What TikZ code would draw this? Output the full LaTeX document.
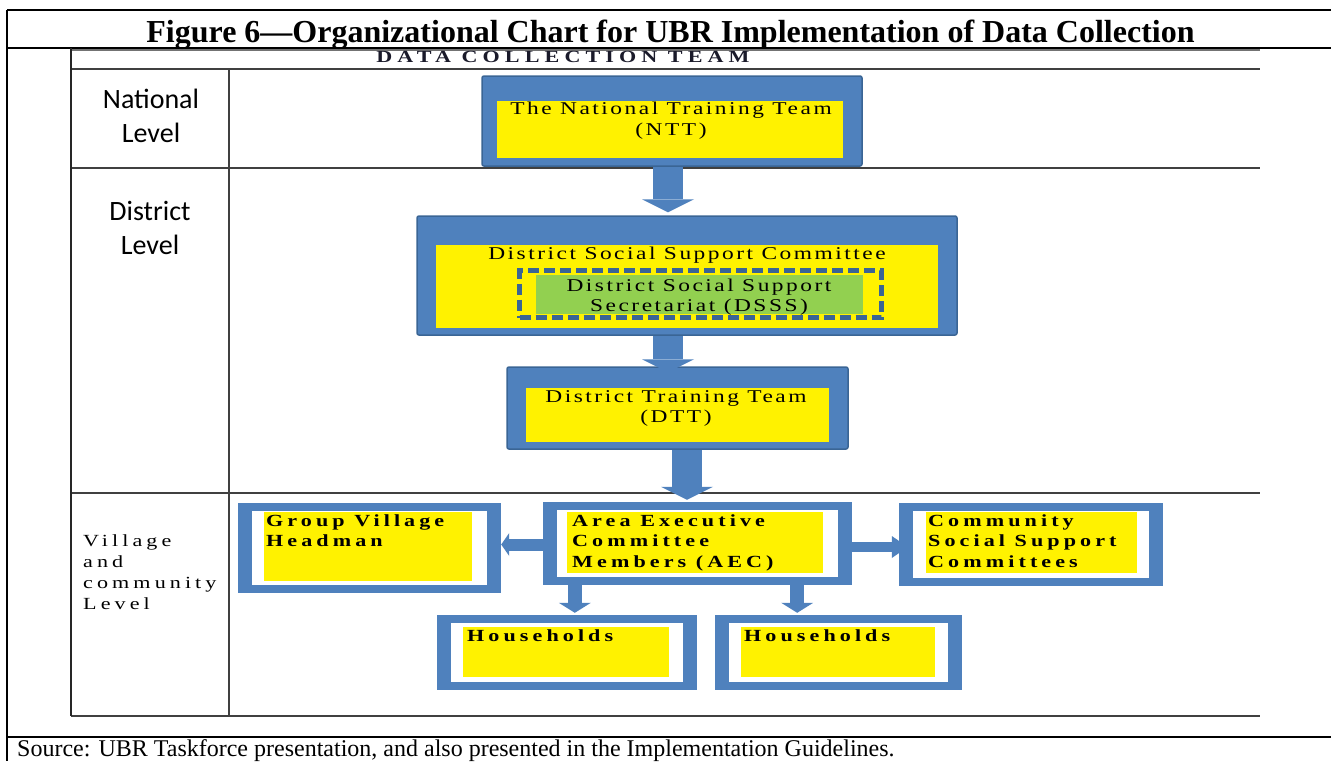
\documentclass[tikz,border=0pt]{standalone}
\usepackage{fontspec}
\setmainfont{Liberation Serif}
\newfontfamily\levelfont{Carlito}
\newfontfamily\boxfont[FakeStretch=1.3, LetterSpace=14]{Liberation Serif}
\newfontfamily\widefont[FakeStretch=1.3, LetterSpace=24]{Liberation Serif}
\newfontfamily\teamfont[FakeStretch=1.3, LetterSpace=30]{Liberation Serif}
\usetikzlibrary{arrows.meta, calc, positioning}
\definecolor{ubrblue}{HTML}{4F81BD}
\definecolor{ubrdark}{HTML}{3A6595}
\definecolor{dsssgreen}{HTML}{92D050}
\definecolor{teamnavy}{HTML}{1A1A2A}
\tikzset{
	topbox/.style={
		rectangle,
		rounded corners=2pt,
		fill=ubrblue,
		draw=ubrdark,
		line width=1.5pt,
		inner sep=0pt
	},
	frame/.style={
		rectangle,
		fill=ubrblue,
		inner sep=0pt
	},
	hl/.style={
		rectangle,
		fill=yellow,
		inner sep=0pt
	},
	toptext/.style={
		inner sep=0pt,
		anchor=north,
		align=center,
		font=\boxfont\fontsize{18}{21}\selectfont
	},
	lowtext/.style={
		inner sep=0pt,
		anchor=north west,
		align=left,
		font=\widefont\bfseries\fontsize{17}{20.5}\selectfont
	},
	levellabel/.style={
		inner sep=0pt,
		anchor=north,
		align=center,
		font=\levelfont\fontsize{28}{34}\selectfont
	},
	rowline/.style={draw=black!75, line width=1.3pt},
	bigarrow/.style={draw=ubrblue, line width=30pt, -{Triangle[width=52pt, length=13pt, line width=0pt]}},
	sidearrow/.style={draw=ubrblue, line width=12pt, -{Triangle[width=23pt, length=8pt, line width=0pt]}},
	downarrow/.style={draw=ubrblue, line width=14pt, -{Triangle[width=32pt, length=10pt, line width=0pt]}}
}

\begin{document}
\begin{tikzpicture}[x=1pt, y=-1pt]
	\clip (0,0) rectangle (1331,761);
	
	% frame and table
	\draw[line width=2.5pt] (7,10) -- (1331,10);
	\draw[line width=2.5pt] (7,48) -- (1331,48);
	\draw[line width=2.5pt] (7,737) -- (1331,737);
	\draw[line width=2pt] (7,10) -- (7,761);
	\draw[rowline, draw=black!55] (71,50) -- (1260,50);
	\draw[rowline] (71,69) -- (1260,69);
	\draw[rowline] (71,168) -- (1260,168);
	\draw[rowline] (71,493) -- (1260,493);
	\draw[rowline] (71,716) -- (1260,716);
	\draw[line width=2.2pt, black!85] (71,48) -- (71,716);
	\draw[rowline] (229,69) -- (229,716);
	
	\node (title) [anchor=base, inner sep=0pt, font=\bfseries\fontsize{32}{36}\selectfont] at (670.5,42) {Figure 6—Organizational Chart for UBR Implementation of Data Collection};
	\node (team) [anchor=base, inner sep=0pt, text=teamnavy, font=\teamfont\bfseries\fontsize{17}{20}\selectfont] at (563,62) {DATA COLLECTION TEAM};
	
	% level column
	\node (national) [levellabel] at (151,89) {National\\Level};
	\node (district) [levellabel] at (150,201) {District\\Level};
	\node (village) [anchor=north west, align=left, inner sep=0pt, font=\widefont\fontsize{17}{21}\selectfont] at (83,534) {Village\\and\\community\\Level};
	
	% national level
	\node (ntt) [topbox, minimum width=380pt, minimum height=90pt] at (672,121) {};
	\node (ntty) [hl, minimum width=346pt, minimum height=57pt] at (670,129.5) {};
	\node (ntttext) [toptext] at (671,102) {The National Training Team\\(NTT)};
	
	% district level
	\node (dssc) [topbox, minimum width=540pt, minimum height=119pt] at (687,275.5) {};
	\node (dsscy) [hl, minimum width=502pt, minimum height=83pt] at (687,286.5) {};
	\node (dssctext) [toptext] at (687,247) {District Social Support Committee};
	\node (dsss) [rectangle, draw=ubrdark, line width=5pt, dash pattern=on 11pt off 5pt, minimum width=362pt, minimum height=47pt] at (700.5,294) {};
	\node (dsssg) [rectangle, fill=dsssgreen, inner sep=0pt, minimum width=327pt, minimum height=39pt] at (699.5,294.5) {};
	\node (dssstext) [toptext, font=\boxfont\fontsize{18}{19.5}\selectfont] at (699,279) {District Social Support\\Secretariat (DSSS)};
	
	\node (dtt) [topbox, minimum width=341pt, minimum height=82pt] at (677.5,408) {};
	\node (dtty) [hl, minimum width=303pt, minimum height=54pt] at (677.5,415) {};
	\node (dtttext) [toptext, font=\boxfont\fontsize{18}{20}\selectfont] at (676,390) {District Training Team\\(DTT)};
	
	% village and community level
	\node (gvh) [frame, minimum width=263pt, minimum height=90pt] at (369.5,548) {};
	\node (aec) [frame, minimum width=309pt, minimum height=83pt] at (697.5,543.5) {};
	\node (cssc) [frame, minimum width=264pt, minimum height=83pt] at (1031,544.5) {};
	\node (hha) [frame, minimum width=260pt, minimum height=75pt] at (567,652.5) {};
	\node (hhb) [frame, minimum width=247pt, minimum height=75pt] at (838.5,652.5) {};
	\foreach \fr in {gvh,aec,cssc,hha,hhb}
		\fill[white] ([shift={(14,8)}]\fr.north west) rectangle ([shift={(-14,-8)}]\fr.south east);
	
	\node (gvhy) [hl, minimum width=208pt, minimum height=69pt] at (368,546.5) {};
	\node (aecy) [hl, minimum width=256pt, minimum height=61pt] at (695,542.5) {};
	\node (cssy) [hl, minimum width=211pt, minimum height=61pt] at (1031.5,542.5) {};
	\node (hhay) [hl, minimum width=206pt, minimum height=50pt] at (566,652) {};
	\node (hhby) [hl, minimum width=194pt, minimum height=50pt] at (838,652) {};
	
	\node (gvhtext) [lowtext] at (266,514) {Group Village\\Headman};
	\node (aectext) [lowtext] at (572,514) {Area Executive\\Committee\\Members (AEC)};
	\node (cssctext) [lowtext] at (928,514) {Community\\Social Support\\Committees};
	\node (hhatext) [lowtext] at (467,629) {Households};
	\node (hhbtext) [lowtext] at (744,629) {Households};
	
	% arrows
	\draw [bigarrow] ($(ntt.south)+(-4,0)$) -- ($(ntt.south |- dssc.north)+(-4,-3)$);
	\draw [bigarrow] ($(dssc.south -| ntt.south)+(-4,0)$) -- ($(dtt.north -| ntt.south)+(-4,6)$);
	\draw [bigarrow] ($(dtt.south)+(9.5,0)$) -- ($(dtt.south |- aec.north)+(9.5,-2)$);
	\draw [sidearrow] ($(aec.west)+(0,1)$) -- ($(aec.west -| gvh.east)+(0,1)$);
	\draw [sidearrow, line width=10pt, -{Triangle[width=22pt, length=16pt, line width=0pt]}] ($(aec.east)+(-11,3.5)$) -- ($(aec.east -| cssc.west)+(9,3.5)$);
	\draw [downarrow] ($(aec.south west)+(32,0)$) -- ($(aec.south west |- hha.north)+(32,-2)$);
	\draw [downarrow] ($(aec.south east)+(-55,0)$) -- ($(aec.south east |- hhb.north)+(-55,-2)$);
	
	\node (source) [anchor=base west, inner sep=0pt, font=\fontsize{24}{28}\selectfont] at (17,756) {Source: UBR Taskforce presentation, and also presented in the Implementation Guidelines.};
\end{tikzpicture}
\end{document}
